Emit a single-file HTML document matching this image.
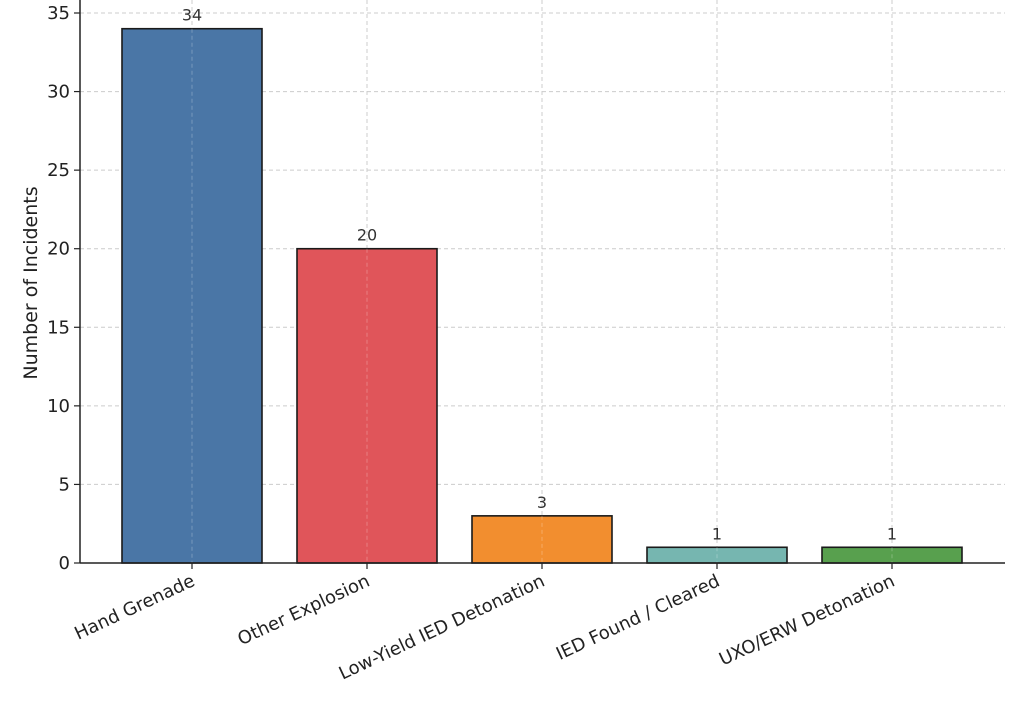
<!DOCTYPE html>
<html><head><meta charset="utf-8"><style>
body{margin:0;background:#fff;}
svg{display:block;font-family:"DejaVu Sans","Liberation Sans",sans-serif;}
</style></head><body>
<svg id="chart" width="1024" height="720" viewBox="0 0 1024 720" xmlns="http://www.w3.org/2000/svg">
<g id="grid"></g>
<g id="bars"></g>
<g id="axes"></g>
<text transform="translate(37,283) rotate(-90)" text-anchor="middle" font-size="19" fill="#222">Number of Incidents</text>
</svg>
<script>
const categories=["Hand Grenade","Other Explosion","Low-Yield IED Detonation","IED Found / Cleared","UXO/ERW Detonation"];
const values=[34,20,3,1,1];
const colors=["#4a76a6","#e0555a","#f28e2f","#76b6b0","#58a04e"];
const yTicks=[0,5,10,15,20,25,30,35];
const NS="http://www.w3.org/2000/svg";
const x0=80,x1=1005,y0=563,yTop=13;
const y=v=>y0-(v/35)*(y0-yTop);
const step=175,bw=140;
const xc=i=>192+i*step;
function mk(tag,attrs,parent,text){const e=document.createElementNS(NS,tag);for(const k in attrs)e.setAttribute(k,attrs[k]);if(text!==undefined)e.textContent=text;parent.appendChild(e);return e;}
const grid=document.getElementById('grid'),bars=document.getElementById('bars'),axes=document.getElementById('axes');
yTicks.forEach(t=>{
  const l=mk('line',{x1:x0,x2:x1,y1:y(t),y2:y(t),stroke:'#ccc','stroke-dasharray':'4,3','stroke-width':1},grid);
  
  
  const tk=mk('line',{x1:x0-6,x2:x0,y1:y(t),y2:y(t),stroke:'#222','stroke-width':1.2},axes);
  
  
  const tx=mk('text',{x:x0-10,y:y(t)+6,'text-anchor':'end','font-size':18,fill:'#222'},axes,String(t));
  
  
});
categories.forEach((c,i)=>{
  const gl=mk('line',{x1:xc(i),x2:xc(i),y1:0,y2:y0,stroke:'#ccc','stroke-dasharray':'4,3','stroke-width':1},grid);
  
  
  const r=mk('rect',{x:xc(i)-bw/2,y:y(values[i]),width:bw,height:y0-y(values[i]),fill:colors[i],stroke:'#1a1a1a','stroke-width':1.6},bars);
  
  
  const gl2=mk('line',{x1:xc(i),x2:xc(i),y1:y(values[i]),y2:y0,stroke:'rgba(255,255,255,0.25)','stroke-dasharray':'4,3','stroke-width':1},bars);
  
  
  const v=mk('text',{x:xc(i),y:y(values[i])-8,'text-anchor':'middle','font-size':16,fill:'#333'},bars,String(values[i]));
  
  
  const tk=mk('line',{x1:xc(i),x2:xc(i),y1:y0,y2:y0+6,stroke:'#222','stroke-width':1.2},axes);
  
  
  const lb=mk('text',{x:0,y:0,'text-anchor':'end','font-size':18,fill:'#222',transform:`translate(${xc(i)+4},${y0+22}) rotate(-25)`},axes,c);
  
  
});
const sl=mk('line',{x1:x0,x2:x0,y1:0,y2:y0,stroke:'#222','stroke-width':1.5},axes);


const sb=mk('line',{x1:x0,x2:x1,y1:y0,y2:y0,stroke:'#222','stroke-width':1.5},axes);


</script>
</body></html>
